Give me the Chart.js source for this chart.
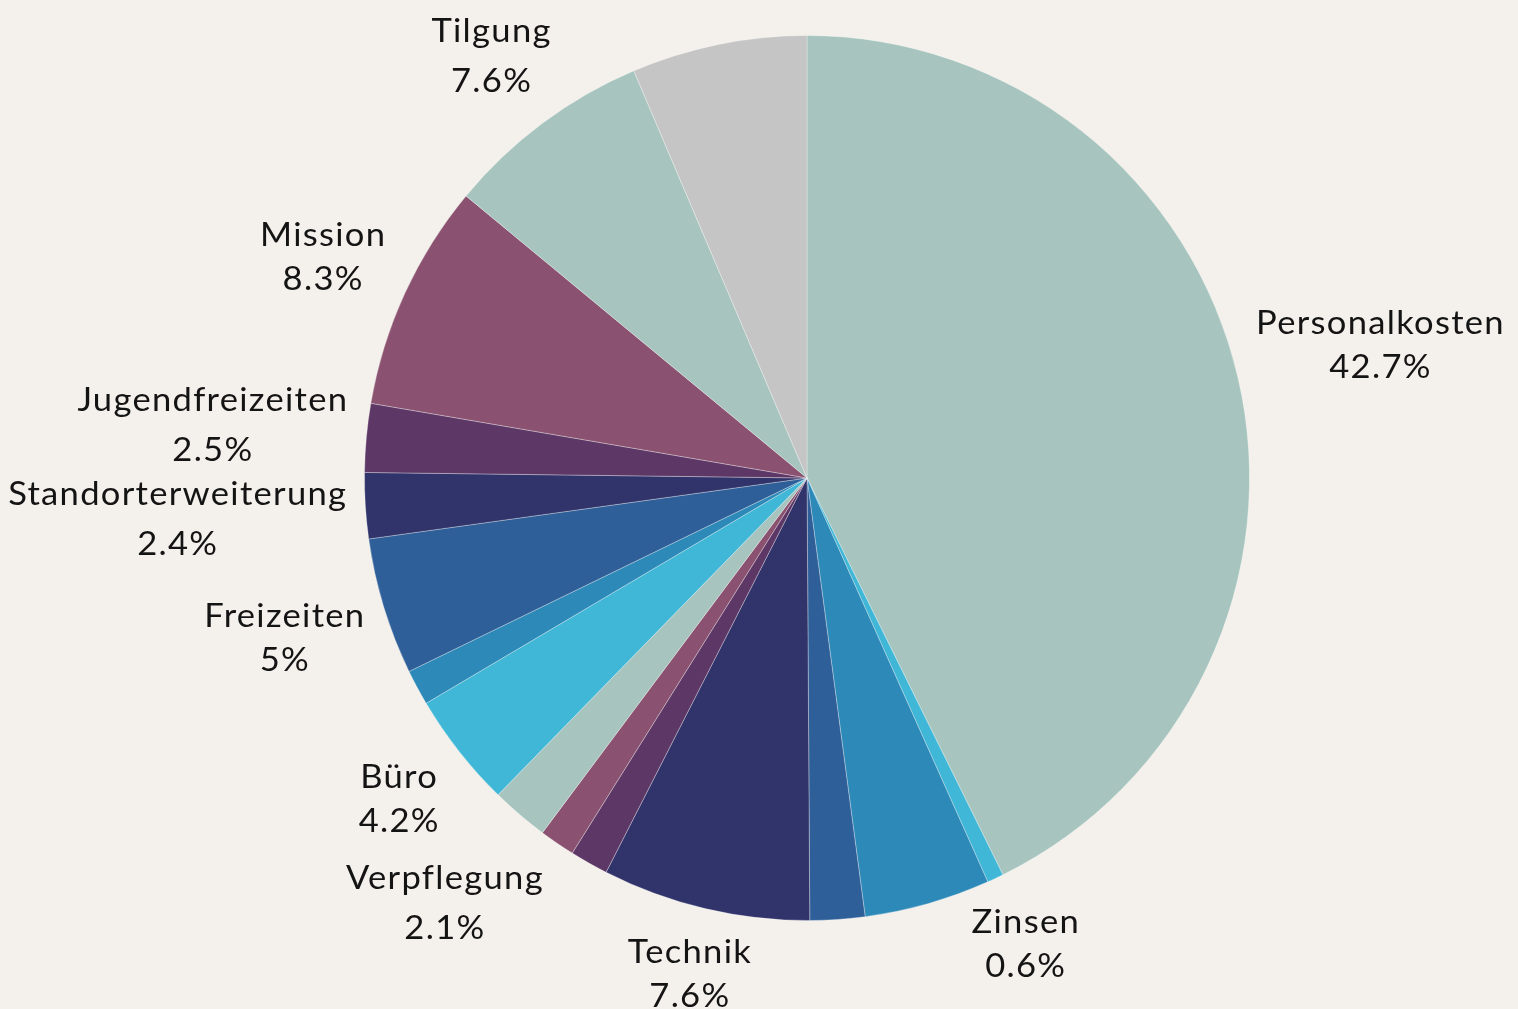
<!DOCTYPE html>
<html>
<head>
<meta charset="utf-8">
<script src="https://cdn.jsdelivr.net/npm/chart.js@4.4.1/dist/chart.umd.min.js"></script>
<style>
  html, body { margin: 0; padding: 0; background: #f4f1ec; }
  #wrap { width: 1518px; height: 1009px; position: relative; }
</style>
</head>
<body>
<div id="wrap"><canvas id="c"></canvas></div>
<script>
// Slices, clockwise from 12 o'clock. Empty names = slices without a visible label.
const categories = ['Personalkosten', 'Zinsen', '', '', 'Technik', '', '', 'Verpflegung', 'Büro', '', 'Freizeiten', 'Standorterweiterung', 'Jugendfreizeiten', 'Mission', 'Tilgung', ''];
const shares = [42.7, 0.6, 4.6, 2.0, 7.6, 1.4, 1.3, 2.1, 4.2, 1.3, 5, 2.4, 2.5, 8.3, 7.6, 6.4];
const sliceColors = ['#a7c4be', '#40b7d6', '#2d89b8', '#2e5f98', '#30346b', '#5d3766', '#8a5270',
                     '#a7c4be', '#40b7d6', '#2d89b8', '#2e5f98', '#30346b', '#5d3766', '#8a5270',
                     '#a7c4be', '#c5c5c5'];

const FONT_SIZE = 32;
const FONT = FONT_SIZE + 'px Lato, "Open Sans", sans-serif';
const STRETCH = 1.08;

const outLabels = {
  id: 'outLabels',
  afterDatasetsDraw(chart) {
    const ctx = chart.ctx;
    const meta = chart.getDatasetMeta(0);
    ctx.save();
    ctx.font = FONT;
    if ('letterSpacing' in ctx) ctx.letterSpacing = '1.2px';
    ctx.fillStyle = '#141414';
    ctx.textAlign = 'center';
    ctx.textBaseline = 'alphabetic';
    const placed = [];
    const minGap = 16, step = 25;
    const overlaps = (b) => placed.some(q =>
      b.x0 < q.x1 && b.x1 > q.x0 && b.y0 < q.y1 + minGap && b.y1 > q.y0 - minGap);
    // place counter-clockwise from the top so earlier labels keep their spot
    for (let i = meta.data.length - 1; i >= 0; i--) {
      const arc = meta.data[i];
      const name = chart.data.labels[i];
      if (!name) continue;
      const p = arc.getProps(['x', 'y', 'startAngle', 'endAngle', 'outerRadius'], true);
      const a = (p.startAngle + p.endAngle) / 2;
      const vx = Math.cos(a), vy = Math.sin(a);
      const lines = [name, chart.data.datasets[0].data[i] + '%'];
      const m = lines.map(t => ctx.measureText(t));
      const gap = 20;
      const asc = m.map(mm => mm.actualBoundingBoxAscent);
      const desc = m.map(mm => mm.actualBoundingBoxDescent);
      const w = Math.max(m[0].width, m[1].width) * STRETCH;
      const h = asc[0] + desc[0] + gap + asc[1] + desc[1];
      const hw = w / 2 + 24, hh = h / 2 + 36;
      const t = Math.min(Math.abs(vx) > 1e-6 ? hw / Math.abs(vx) : 1e9,
                         Math.abs(vy) > 1e-6 ? hh / Math.abs(vy) : 1e9);
      let D = p.outerRadius - 6 + t;
      let cx, cy, box;
      for (let k = 0; k < 10; k++) {
        cx = p.x + vx * D; cy = p.y + vy * D;
        box = { x0: cx - w / 2, x1: cx + w / 2, y0: cy - h / 2, y1: cy + h / 2 };
        if (!overlaps(box)) break;
        D += step;
      }
      placed.push(box);
      const top = cy - h / 2;
      const base = [top + asc[0], top + asc[0] + desc[0] + gap + asc[1]];
      lines.forEach((txt, k) => {
        ctx.save();
        ctx.translate(cx, base[k]);
        ctx.scale(STRETCH, 1);
        ctx.fillText(txt, 0, 0);
        ctx.restore();
      });
    }
    ctx.restore();
  }
};

new Chart(document.getElementById('c'), {
  type: 'pie',
  data: {
    labels: categories,
    datasets: [{
      data: shares,
      backgroundColor: sliceColors,
      borderColor: 'rgba(255,255,255,0.3)',
      borderWidth: 1
    }]
  },
  options: {
    responsive: true,
    maintainAspectRatio: false,
    animation: false,
    layout: { padding: { left: 364, right: 268, top: 35, bottom: 88 } },
    plugins: {
      legend: { display: false },
      tooltip: { enabled: false }
    }
  },
  plugins: [outLabels]
});
</script>
</body>
</html>
